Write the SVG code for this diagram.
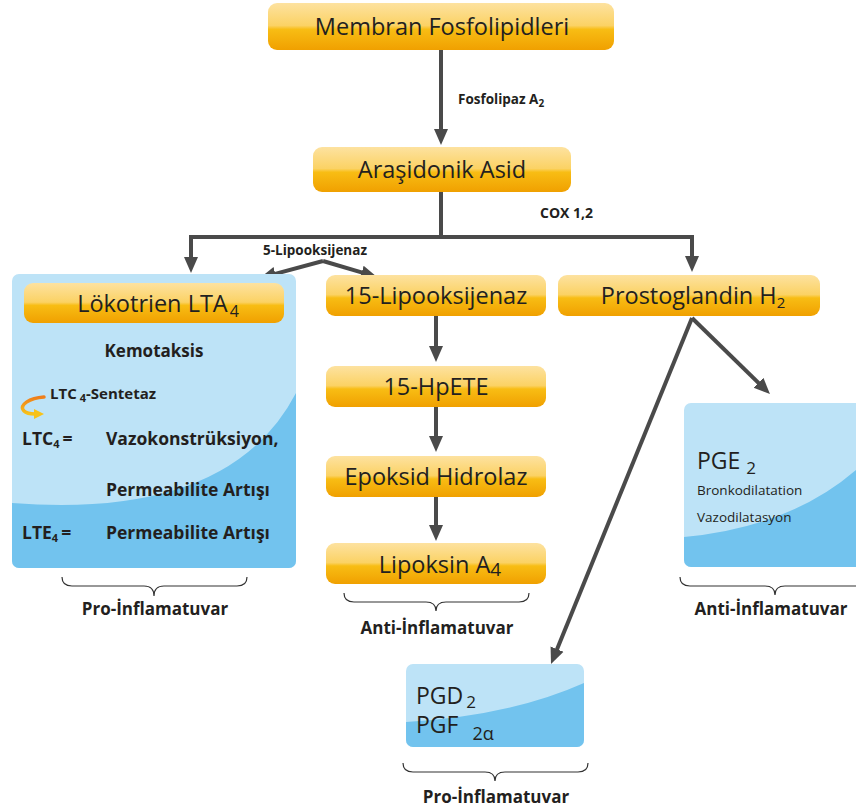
<svg xmlns="http://www.w3.org/2000/svg" width="856" height="808" viewBox="0 0 856 808">
<defs>
<linearGradient id="gold" x1="0" y1="0" x2="0" y2="1">
<stop offset="0" stop-color="#fde2a0"/>
<stop offset="0.48" stop-color="#fbd264"/>
<stop offset="0.56" stop-color="#f8bd14"/>
<stop offset="1" stop-color="#f0a000"/>
</linearGradient>
<linearGradient id="orng" x1="0" y1="0" x2="0" y2="1">
<stop offset="0" stop-color="#ef7d1a"/>
<stop offset="1" stop-color="#f7c21a"/>
</linearGradient>
<marker id="ah" markerUnits="userSpaceOnUse" markerWidth="16" markerHeight="16" viewBox="0 0 16 16" refX="6" refY="8" orient="auto">
<path d="M0,1 L16,8 L0,15 z" fill="#4a4a4a"/>
</marker>
<clipPath id="c1"><rect x="12" y="274" width="284" height="294" rx="7"/></clipPath>
<clipPath id="c2"><rect x="684" y="403" width="180" height="164" rx="7"/></clipPath>
<clipPath id="c3"><rect x="406" y="664" width="178" height="83" rx="7"/></clipPath>
</defs>
<style>
.gold{fill:url(#gold)}
.light{fill:#bde3f7}
.dark{fill:#72c3ee}
.bt{font-family:"Open Sans",sans-serif;font-size:23.5px;fill:#231f20;text-anchor:middle}
.lb{font-family:"Open Sans",sans-serif;font-weight:700;fill:#231f20}
.rt{font-family:"Open Sans",sans-serif;fill:#231f20}
.conn{stroke:#4a4a4a;stroke-width:4;fill:none}
.arr{marker-end:url(#ah)}
.brace{stroke:#333;stroke-width:1.2;fill:none}
</style>

<g id="connectors">
<path class="conn arr" d="M441,50 V135"/>
<path class="conn" d="M441,192 V237"/>
<path class="conn arr" d="M441,237 H191 V263"/>
<path class="conn arr" d="M441,237 H692 V262"/>
<path class="conn arr" d="M323,261 L269.6,275.4"/>
<path class="conn arr" d="M323,261 L367.4,274.2"/>
<path class="conn arr" d="M436,316 V352"/>
<path class="conn arr" d="M436,407 V442"/>
<path class="conn arr" d="M436,497 V531"/>
<path class="conn arr" d="M692,318 L762.8,387"/>
<path class="conn arr" d="M692,318 L554.8,654.7"/>
</g>

<g id="label-fosfolipaz">
<text class="lb" x="458" y="104" font-size="13.5">Fosfolipaz A<tspan font-size="10" dy="3">2</tspan></text>
</g>
<g id="label-cox">
<text class="lb" x="540" y="218" font-size="14">COX 1,2</text>
</g>
<g id="label-5lox">
<text class="lb" x="263" y="255" font-size="13.5">5-Lipooksijenaz</text>
</g>

<g id="membran">
<rect class="gold" x="268" y="3" width="346" height="47" rx="9"/>
<text class="bt" x="442" y="35">Membran Fosfolipidleri</text>
</g>

<g id="arasidonik">
<rect class="gold" x="313" y="147" width="258" height="45" rx="9"/>
<text class="bt" x="442" y="178">Araşidonik Asid</text>
</g>

<g id="lokotrien">
<g clip-path="url(#c1)">
<rect class="light" x="12" y="274" width="284" height="294"/>
<path class="dark" d="M0,503 L12,503 Q230,520 296,393 L310,393 L310,580 L0,580 z"/>
</g>
<rect class="gold" x="24" y="283" width="260" height="40" rx="9"/>
<text class="bt" x="158" y="312">Lökotrien LTA<tspan font-size="16" dx="2" dy="5">4</tspan></text>
<text class="lb" x="154" y="357" font-size="17" text-anchor="middle">Kemotaksis</text>
<path d="M44,397 C30,398 18,405 24,411 C26,413 30,414 35,414" stroke="url(#orng)" stroke-width="3.5" fill="none" stroke-linecap="round"/>
<path d="M34,409 L44,414 L34,419 z" fill="#f7c21a"/>
<text class="lb" x="50" y="399" font-size="15">LTC<tspan font-size="11" dx="3" dy="3">4</tspan><tspan dy="-3">-Sentetaz</tspan></text>
<text class="lb" x="22" y="445" font-size="17.5">LTC<tspan font-size="11" dy="3">4</tspan><tspan dx="3" dy="-3">=</tspan></text>
<text class="lb" x="106" y="445" font-size="17.5">Vazokonstrüksiyon,</text>
<text class="lb" x="106" y="496" font-size="17.5">Permeabilite Artışı</text>
<text class="lb" x="22" y="539" font-size="17.5">LTE<tspan font-size="11" dy="3">4</tspan><tspan dx="3" dy="-3">=</tspan></text>
<text class="lb" x="106" y="539" font-size="17.5">Permeabilite Artışı</text>
</g>

<g id="lox15">
<rect class="gold" x="326" y="275" width="220" height="41" rx="9"/>
<text class="bt" x="436" y="304">15-Lipooksijenaz</text>
</g>
<g id="hpete">
<rect class="gold" x="326" y="366" width="220" height="41" rx="9"/>
<text class="bt" x="436" y="395">15-HpETE</text>
</g>
<g id="epoksid">
<rect class="gold" x="326" y="456" width="220" height="41" rx="9"/>
<text class="bt" x="436" y="485">Epoksid Hidrolaz</text>
</g>
<g id="lipoksin">
<rect class="gold" x="326" y="543" width="220" height="41" rx="9"/>
<text class="bt" x="440" y="573">Lipoksin A<tspan font-size="19" dy="3">4</tspan></text>
</g>

<g id="pgh2">
<rect class="gold" x="558" y="275" width="262" height="41" rx="9"/>
<text class="bt" x="693" y="304">Prostoglandin H<tspan font-size="15" dy="4">2</tspan></text>
</g>

<g id="pge2">
<g clip-path="url(#c2)">
<rect class="light" x="684" y="403" width="180" height="164"/>
<path class="dark" d="M684,537 Q790,527 856,470 L870,470 L870,580 L684,580 z"/>
</g>
<text class="rt" x="697" y="469" font-size="23">PGE<tspan font-size="17" dx="6" dy="5">2</tspan></text>
<text class="rt" x="697" y="495" font-size="13.5">Bronkodilatation</text>
<text class="rt" x="697" y="522" font-size="13.5">Vazodilatasyon</text>
</g>

<g id="pgd2">
<g clip-path="url(#c3)">
<rect class="light" x="406" y="664" width="178" height="83"/>
<path class="dark" d="M406,722 Q510,716 584,683 L600,683 L600,760 L406,760 z"/>
</g>
<text class="rt" x="416" y="704" font-size="23">PGD<tspan font-size="17" dx="3" dy="4">2</tspan></text>
<text class="rt" x="416" y="733" font-size="23">PGF<tspan font-size="18" dx="14" dy="7">2α</tspan></text>
</g>

<g id="brace-left">
<path class="brace" d="M62,577 Q62,586 72,586 L144,586 Q154,586 154,596 Q154,586 164,586 L237,586 Q247,586 247,577"/>
<text class="lb" x="155" y="615" font-size="17" text-anchor="middle">Pro-İnflamatuvar</text>
</g>
<g id="brace-mid">
<path class="brace" d="M344,593 Q344,602 354,602 L426,602 Q436,602 436,611 Q436,602 446,602 L519,602 Q529,602 529,593"/>
<text class="lb" x="437" y="634" font-size="17" text-anchor="middle">Anti-İnflamatuvar</text>
</g>
<g id="brace-right">
<path class="brace" d="M680,577 Q680,586 690,586 L765,586 Q775,586 775,595 Q775,586 785,586 L856,586"/>
<text class="lb" x="771" y="615" font-size="17" text-anchor="middle">Anti-İnflamatuvar</text>
</g>
<g id="brace-bottom">
<path class="brace" d="M403,763 Q403,772 413,772 L485,772 Q495,772 495,781 Q495,772 505,772 L578,772 Q588,772 588,763"/>
<text class="lb" x="496" y="803" font-size="17" text-anchor="middle">Pro-İnflamatuvar</text>
</g>
</svg>
